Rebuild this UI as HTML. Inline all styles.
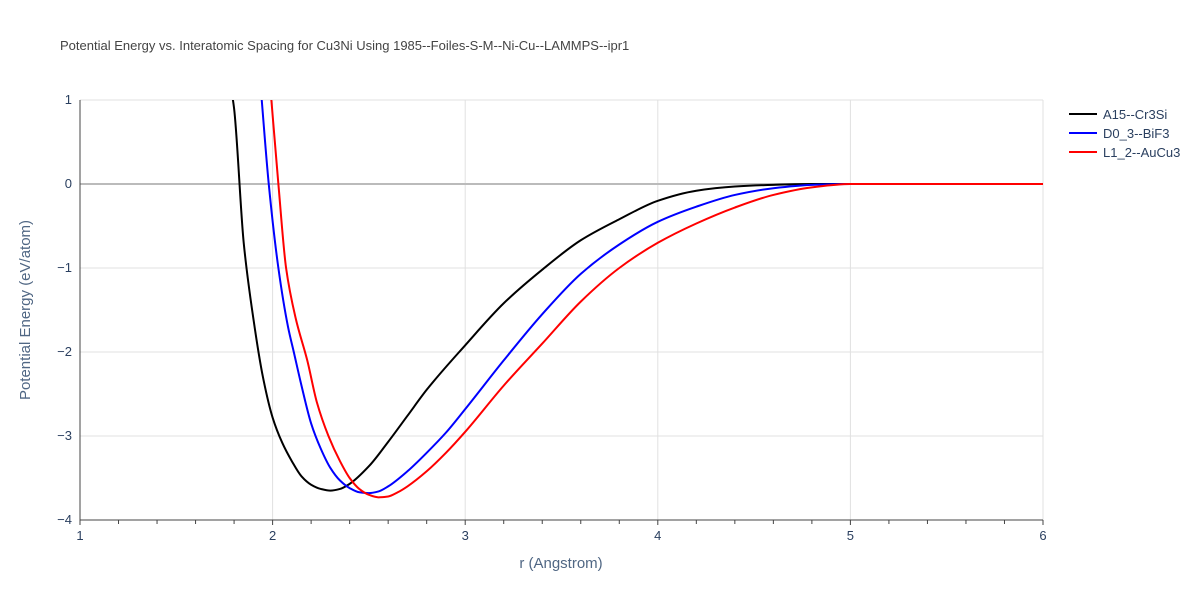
<!DOCTYPE html>
<html><head><meta charset="utf-8"><style>
body{margin:0;background:#fff;font-family:"Liberation Sans",sans-serif}
svg text{font-family:"Liberation Sans",sans-serif}
</style></head><body>
<svg id="c" width="1200" height="600">
<rect width="1200" height="600" fill="#fff"/>
<text x="60" y="50" font-size="13" fill="#444">Potential Energy vs. Interatomic Spacing for Cu3Ni Using 1985--Foiles-S-M--Ni-Cu--LAMMPS--ipr1</text>
<defs><clipPath id="pc"><rect x="80" y="100" width="963" height="420"/></clipPath></defs>
<g id="grid"></g><g id="axes"></g><g id="series" clip-path="url(#pc)"></g><g id="legend"></g>
<text x="561" y="568" font-size="15" fill="#506784" text-anchor="middle">r (Angstrom)</text>
<text transform="translate(30,310) rotate(-90)" font-size="15" fill="#506784" text-anchor="middle">Potential Energy (eV/atom)</text>
</svg>
<script>
const xTicks=[1,2,3,4,5,6];
const yTicks=[1,0,-1,-2,-3,-4];
const seriesNames=["A15--Cr3Si","D0_3--BiF3","L1_2--AuCu3"];
const seriesColors=["#000000","#0000ff","#ff0000"];
const rA15=[1.78,1.8,1.85,1.9,1.95,2.0,2.05,2.1,2.15,2.2,2.25,2.3,2.35,2.4,2.5,2.6,2.7,2.8,3.0,3.2,3.4,3.6,3.8,4.0,4.2,4.4,4.6,4.8,5,6];
const eA15=[1.2,0.9,-0.7,-1.6,-2.3,-2.78,-3.08,-3.3,-3.48,-3.58,-3.63,-3.65,-3.63,-3.57,-3.36,-3.07,-2.76,-2.45,-1.92,-1.42,-1.02,-0.67,-0.42,-0.2,-0.08,-0.03,-0.01,0,0,0];
const rD03=[1.94,1.98,2.03,2.08,2.11,2.15,2.2,2.25,2.3,2.35,2.4,2.45,2.5,2.55,2.6,2.7,2.8,2.9,3.0,3.2,3.4,3.6,3.8,4.0,4.2,4.4,4.6,4.8,5,6];
const eD03=[1.1,0,-1,-1.7,-2,-2.4,-2.85,-3.15,-3.38,-3.53,-3.62,-3.67,-3.68,-3.66,-3.6,-3.42,-3.2,-2.96,-2.68,-2.1,-1.55,-1.07,-0.72,-0.45,-0.27,-0.13,-0.05,-0.01,0,0];
const rL12=[1.99,2.03,2.07,2.12,2.18,2.23,2.29,2.35,2.4,2.45,2.5,2.55,2.6,2.65,2.7,2.8,2.9,3.0,3.2,3.4,3.6,3.8,4.0,4.2,4.4,4.6,4.8,5,6];
const eL12=[1.1,0,-1,-1.6,-2.1,-2.6,-3.0,-3.3,-3.5,-3.63,-3.7,-3.73,-3.72,-3.67,-3.6,-3.42,-3.2,-2.95,-2.4,-1.9,-1.4,-1.0,-0.7,-0.47,-0.28,-0.13,-0.04,0,0];
const rs=[rA15,rD03,rL12], es=[eA15,eD03,eL12];
const X=r=>80+(r-1)*192.6, Y=e=>184-e*84;
const NS="http://www.w3.org/2000/svg";
function mk(t,a,p){const el=document.createElementNS(NS,t);for(const k in a)el.setAttribute(k,a[k]);p.appendChild(el);return el;}
const grid=document.getElementById('grid'),axes=document.getElementById('axes'),ser=document.getElementById('series'),leg=document.getElementById('legend');
xTicks.forEach(t=>{
 if(t>1){const l=mk('line',{x1:X(t),x2:X(t),y1:100,y2:520,stroke:'#e0e0e0'},grid);
 
 }
 const tx=mk('text',{x:X(t),y:540,'font-size':13,fill:'#2a3f5f','text-anchor':'middle'},axes);tx.textContent=t;
 
 
});
for(let i=0;i<=25;i++){const r=1+i*0.2;mk('line',{x1:X(r),x2:X(r),y1:520,y2:i%5==0?525:524,stroke:'#444'},axes);}
yTicks.forEach(t=>{
 const l=mk('line',{x1:80,x2:1043,y1:Y(t),y2:Y(t),stroke:t==0?'#bbb':'#e0e0e0','stroke-width':t==0?2:1},grid);
 
 
 const tx=mk('text',{x:72,y:Y(t)+4,'font-size':13,fill:'#2a3f5f','text-anchor':'end'},axes);tx.textContent=t<0?'−'+(-t):t;
 
 
});
mk('line',{x1:80,x2:80,y1:100,y2:520,stroke:'#444'},axes);
mk('line',{x1:80,x2:1043,y1:520,y2:520,stroke:'#444'},axes);
function path(xs,ys){
 const n=xs.length,h=[],d=[],m=new Array(n);
 for(let i=0;i<n-1;i++){h[i]=xs[i+1]-xs[i];d[i]=(ys[i+1]-ys[i])/h[i];}
 m[0]=d[0];m[n-1]=d[n-2];
 for(let i=1;i<n-1;i++){
  if(d[i-1]*d[i]<=0)m[i]=0;
  else{const w1=2*h[i]+h[i-1],w2=h[i]+2*h[i-1];m[i]=(w1+w2)/(w1/d[i-1]+w2/d[i]);}
 }
 let s='M'+X(xs[0])+','+Y(ys[0]);
 for(let i=0;i<n-1;i++){
  const x1=xs[i]+h[i]/3,y1=ys[i]+m[i]*h[i]/3,x2=xs[i+1]-h[i]/3,y2=ys[i+1]-m[i+1]*h[i]/3;
  s+='C'+X(x1)+','+Y(y1)+' '+X(x2)+','+Y(y2)+' '+X(xs[i+1])+','+Y(ys[i+1]);
 }
 return s;}
seriesNames.forEach((n,i)=>{
 const p=mk('path',{d:path(rs[i],es[i]),fill:'none',stroke:seriesColors[i],'stroke-width':2,'stroke-linejoin':'round'},ser);
 
 
 const g=mk('g',{},leg);
 
 
 const y=114+i*19;
 mk('line',{x1:1069,x2:1097,y1:y,y2:y,stroke:seriesColors[i],'stroke-width':2},g);
 const t=mk('text',{x:1103,y:y+5,'font-size':13,fill:'#2a3f5f'},g);t.textContent=n;
});
</script>
</body></html>
